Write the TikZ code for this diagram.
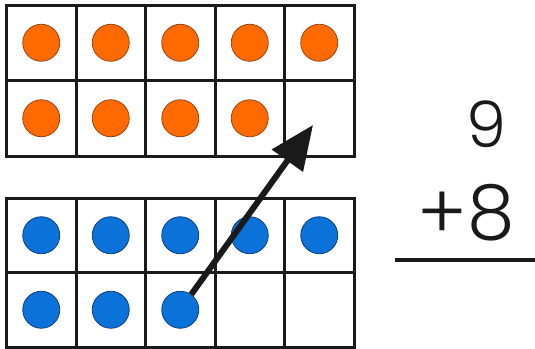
\documentclass[tikz,border=0pt]{standalone}
\usepackage{fontspec}
\setmainfont{Poppins Light}
\usetikzlibrary{arrows.meta, positioning, calc}
\definecolor{dotorange}{HTML}{FF6A00}
\definecolor{rimorange}{HTML}{9A4410}
\definecolor{dotblue}{HTML}{0A72D8}
\definecolor{rimblue}{HTML}{0C3F78}
\definecolor{ink}{HTML}{1A1A1A}

\begin{document}
\begin{tikzpicture}[x=1pt, y=-1pt,
    frameline/.style={ink, line width=3pt},
    orangedot/.style={circle, fill=dotorange, draw=rimorange, line width=0.8pt,
                      minimum size=37pt, inner sep=0pt},
    bluedot/.style={circle, fill=dotblue, draw=rimblue, line width=0.8pt,
                    minimum size=37pt, inner sep=0pt},
    digit/.style={ink, inner sep=0pt}]
  \useasboundingbox (0,0) rectangle (535,348);

  % top ten-frame: nine orange counters
  \draw[frameline] (6.5,5) rectangle (354,156) (6.5,80.5) -- (354,80.5);
  \foreach \x in {76,145.5,215,284.5}
    \draw[frameline] (\x,5) -- (\x,156);
  \foreach \i in {1,...,5}
    \node[orangedot] (t\i) at ({6.5+69.5*(\i-0.5)},42.75) {};
  \foreach \i in {6,...,9}
    \node[orangedot] (t\i) at ({6.5+69.5*(\i-5.5)},118.25) {};

  % bottom ten-frame: eight blue counters
  \draw[frameline] (6.5,198) rectangle (354,347) (6.5,272.5) -- (354,272.5);
  \foreach \x in {76,145.5,215,284.5}
    \draw[frameline] (\x,198) -- (\x,347);
  \foreach \i in {1,...,5}
    \node[bluedot] (b\i) at ({6.5+69.5*(\i-0.5)},235.25) {};
  \foreach \i in {6,...,8}
    \node[bluedot] (b\i) at ({6.5+69.5*(\i-5.5)},309.75) {};

  % move one counter into the empty box
  \coordinate (gap) at (313,125);
  \draw[ink, line width=6pt, -{Triangle[length=44pt, width=37pt]}] (b8) -- (gap);

  % the sum
  \node[digit, font=\fontsize{64}{64}\selectfont, anchor=base east] (nine) at (507,147) {9};
  \node[digit, font=\fontsize{76}{76}\selectfont, anchor=base east] (eight) at (515,239) {+8};
  \draw[ink, line width=4pt] (395,260) -- (535,260);
\end{tikzpicture}
\end{document}
